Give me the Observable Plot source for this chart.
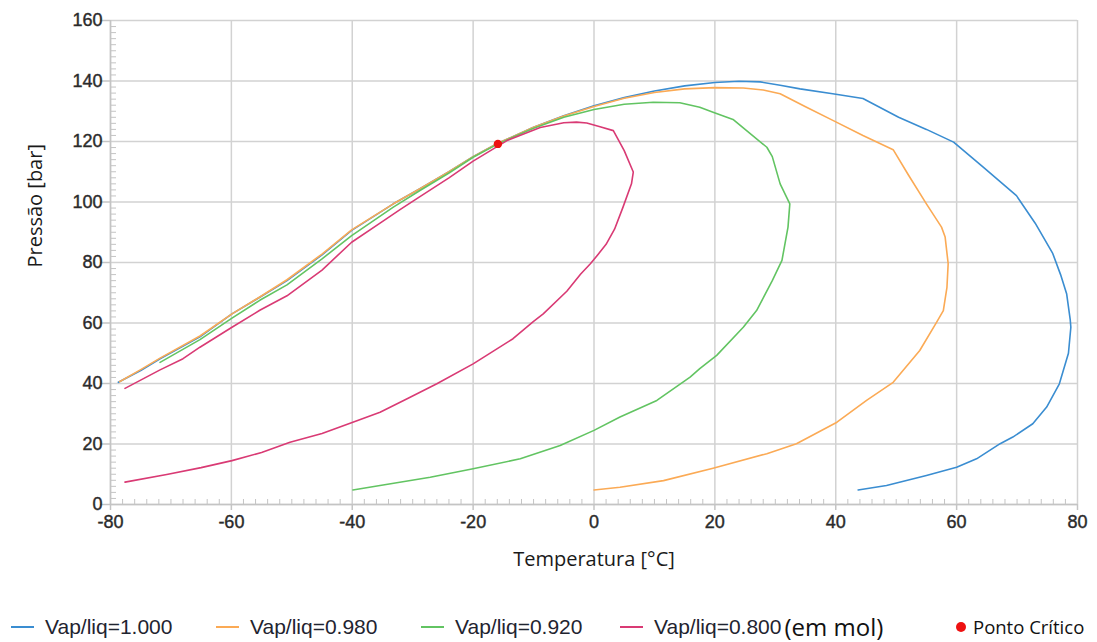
<!DOCTYPE html>
<html>
<head>
<meta charset="utf-8">
<script src="https://cdn.jsdelivr.net/npm/d3@7"></script>
<script src="https://cdn.jsdelivr.net/npm/@observablehq/plot@0.6"></script>
<style>
  body { margin: 0; background: #fff; }
  #page { position: relative; width: 1097px; height: 642px; overflow: hidden; }
  #chart svg { display: block; }
  #chart [aria-label="y-axis tick label"] text,
  #chart [aria-label="x-axis tick label"] text { stroke: #2b2b2b; stroke-width: 0.4px; }
  .leg { position: absolute; top: 612px; height: 30px; display: flex; align-items: center;
         font-family: "Liberation Sans", Arial, sans-serif; font-size: 21px; line-height: 24px; color: #1f2430; white-space: nowrap; }
  .sw { display: inline-block; width: 23px; height: 2px; margin-right: 11px; }
  .unit { font-family: "Open Sans", sans-serif; font-size: 24px; line-height: 24px; color: #111; margin-left: 3px; }
  .dot { display: inline-block; width: 10px; height: 10px; border-radius: 50%; background: #ee1111; margin-right: 7px; }
  .crit { font-family: "Open Sans", sans-serif; font-size: 18.5px; color: #111; }
</style>
</head>
<body>
<div id="page">
  <div id="chart"></div>
  <div id="legend"></div>
</div>
<script>
// Phase envelopes of the mixture: [temperature °C, pressure bar] along each quality line
const vap1000 = [
  [-78.7,40.4],[-75,44.3],[-71.8,48.2],[-65.2,55.4],[-59.9,63.0],[-55.3,68.5],[-50.8,74.0],
  [-45,82.5],[-40.1,90.6],[-33.2,99.4],[-28.8,104.4],[-24,110],[-20,115.0],[-15.9,119.4],
  [-10,124.7],[-5,128.5],[0,131.8],[5,134.5],[10,136.7],[15,138.4],[20,139.5],[24,139.9],
  [27.5,139.7],[30.8,138.6],[34.1,137.4],[39.5,135.8],[44.5,134.2],[50.4,128.0],[55,124.0],
  [59.5,119.8],[64.4,111.5],[69.9,102.1],[73,93],[75.9,83.0],[77.2,76],[78.2,69.7],[78.8,61],
  [78.9,58.6],[78.5,50],[77.0,39.9],[74.9,32.2],[72.6,26.7],[69.3,22.3],[67.2,20.1],[63.3,15.1],
  [60.0,12.3],[55.0,9.6],[48.4,6.3],[43.7,4.8]
];
const vap0980 = [
  [-78.5,40.6],[-75,44.6],[-71.8,48.4],[-65.2,55.7],[-59.9,63.0],[-55.3,68.6],[-50.8,74.3],
  [-45,82.8],[-40.1,90.8],[-33.2,99.4],[-28.8,104.4],[-24,110],[-20,115.0],[-15.9,119.4],
  [-10,124.7],[-5,128.4],[0,131.6],[5,134.3],[10,136.2],[15,137.4],[20,137.8],[24.7,137.7],
  [28,137],[30.8,135.8],[35,131.5],[39.6,126.9],[44.5,122],[49.5,117.3],[52,109],[55.0,99.4],
  [57.5,91.7],[58.1,88.4],[58.6,79.6],[58.4,71.8],[57.8,64.1],[56.7,60.3],[53.9,50.9],
  [49.5,40.4],[45.1,34.4],[40.2,27.2],[33.5,20.1],[28.6,16.8],[19.7,12.0],[11.5,7.9],
  [4.3,5.7],[0,4.8]
];
const vap0920 = [
  [-71.8,47.0],[-65.2,54.5],[-59.9,61.6],[-55.3,67.5],[-50.8,72.6],[-45,81.2],[-40.1,88.9],
  [-33.2,98.3],[-28.8,103.8],[-24,109.6],[-20,114.8],[-15.9,119.2],[-10,124.4],[-5,128.0],
  [0,130.6],[5,132.3],[9.8,133.0],[14.2,132.8],[17.5,131.3],[19.7,129.7],[23.0,127.3],
  [25.3,123.5],[28.6,118.1],[29.5,115],[30.8,106.0],[32.4,99.4],[32.1,91.7],[31.1,80.7],
  [29.5,74],[26.9,64.1],[24.7,58.6],[20.3,49.3],[17.5,44.9],[15.9,42.1],[10.4,34.4],
  [4.3,28.9],[0,24.5],[-5.6,19.5],[-12.2,15.1],[-20,11.8],[-27.1,9.0],[-35.4,6.3],[-39.9,4.8]
];
const vap0800 = [
  [-77.6,38.4],[-71.8,44.5],[-68,48.2],[-65.2,52.0],[-59.9,58.6],[-55.3,64.2],[-50.8,69.0],
  [-45,77.5],[-40.1,86.7],[-35.4,93],[-32.1,97.5],[-28.8,101.8],[-24,108],[-20,113.5],
  [-14.4,120.3],[-8.9,124.6],[-5,126.2],[-2.9,126.4],[-1.2,126.1],[1,124.9],[3.2,123.6],
  [5,117],[6.5,109.9],[6.2,106.0],[4.8,98.3],[3.4,91],[2.0,86],[0.6,82.5],[-0.6,79.6],
  [-2.2,76.2],[-4.5,70.5],[-8.4,63.0],[-10.0,60.5],[-13.4,54.8],[-20.0,46.5],[-26.0,39.9],
  [-31.0,34.9],[-35.4,30.5],[-39.9,27.2],[-45,23.5],[-50.3,20.6],[-55,17.2],[-59.9,14.5],
  [-65,12.2],[-70.7,9.9],[-77.6,7.4]
];
const criticalPoint = [[-15.9, 119.2]];

const seriesNames = ["Vap/liq=1.000", "Vap/liq=0.980", "Vap/liq=0.920", "Vap/liq=0.800"];
const seriesColors = ["#3a8dd1", "#fbaa55", "#62c462", "#d93a74"];
const seriesPoints = [vap1000, vap0980, vap0920, vap0800];

const xMajor = [-80, -60, -40, -20, 0, 20, 40, 60, 80];
const yMajor = [0, 20, 40, 60, 80, 100, 120, 140, 160];
const xMinor = d3.range(-78, 80, 2).filter(v => v % 20 !== 0);
const yMinor = d3.range(2, 160, 2).filter(v => v % 20 !== 0);

const rows = seriesPoints.flatMap((pts, k) =>
  pts.map(([t, p]) => ({serie: seriesNames[k], t, p})));

const gridColor = "#d2d2d2";
const plain = d => String(d);   // hyphen-minus, as in the axis labels

const chart = Plot.plot({
  width: 1097,
  height: 595,
  marginLeft: 110,
  marginRight: 20,
  marginTop: 20,
  marginBottom: 91,
  style: {fontFamily: "'Liberation Sans', Arial, sans-serif", fontSize: "18px", color: "#2b2b2b", background: "#fff"},
  x: {domain: [-80, 80]},
  y: {domain: [0, 160]},
  color: {domain: seriesNames, range: seriesColors},
  marks: [
    Plot.gridX(xMajor, {stroke: gridColor, strokeOpacity: 1, strokeWidth: 1.5}),
    Plot.gridY(yMajor, {stroke: gridColor, strokeOpacity: 1, strokeWidth: 1.5}),
    Plot.axisX(xMinor, {tickSize: -5, stroke: "#c4c4c4", fill: "none", label: null}),
    Plot.axisY(yMinor, {tickSize: -6, stroke: "#c4c4c4", fill: "none", label: null}),
    Plot.axisX(xMajor, {tickSize: 6, tickPadding: 5, stroke: "#c4c4c4", strokeWidth: 1.5, tickFormat: plain, label: null}),
    Plot.axisY(yMajor, {tickSize: 10, tickPadding: -2, stroke: "#c4c4c4", strokeWidth: 1.5, tickFormat: plain, label: null}),
    Plot.ruleX([-80], {stroke: "#c4c4c4", strokeWidth: 1.5}),
    Plot.ruleY([0], {stroke: "#c4c4c4", strokeWidth: 1.5}),
    Plot.text(["Temperatura [°C]"], {frameAnchor: "bottom", dy: 61, fontFamily: "'Open Sans', sans-serif", fontSize: 20, fill: "#1a1a1a"}),
    Plot.text(["Pressão [bar]"], {frameAnchor: "left", dx: -75, dy: 5, rotate: -90, fontFamily: "'Open Sans', sans-serif", fontSize: 20, fill: "#1a1a1a"}),
    Plot.line(rows, {x: "t", y: "p", z: "serie", stroke: "serie", strokeWidth: 1.6, curve: "linear"}),
    Plot.dot(criticalPoint, {x: d => d[0], y: d => d[1], r: 4.2, fill: "#ee1111", stroke: "none"})
  ]
});
document.getElementById("chart").appendChild(chart);

// Legend row under the chart
const legend = document.getElementById("legend");
const legendLeft = [11, 216, 421, 620];
seriesNames.forEach((name, k) => {
  const item = document.createElement("div");
  item.className = "leg";
  item.style.left = legendLeft[k] + "px";
  item.innerHTML = `<span class="sw" style="background:${seriesColors[k]}"></span><span>${name}</span>` +
    (k === 3 ? `<span class="unit">(em mol)</span>` : "");
  legend.appendChild(item);
});
const crit = document.createElement("div");
crit.className = "leg";
crit.style.left = "956px";
crit.innerHTML = `<span class="dot"></span><span class="crit">Ponto Crítico</span>`;
legend.appendChild(crit);
</script>
</body>
</html>
